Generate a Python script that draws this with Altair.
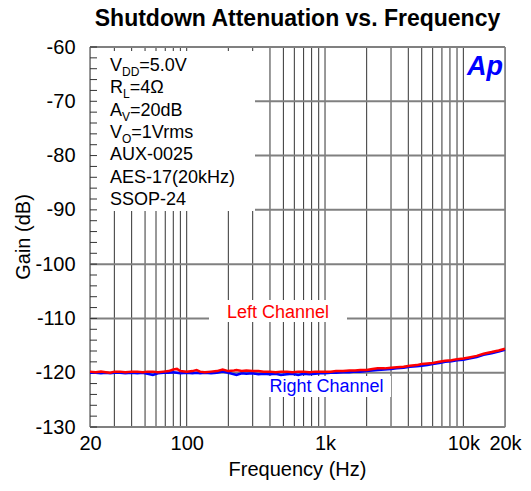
import altair as alt
import pandas as pd

FONT = "Liberation Sans"

# ---- data ----
freq = [20, 22, 24, 26, 28, 30, 33, 36, 40, 44, 48, 52, 57, 62, 68, 74, 80, 85, 90,
        100, 110, 118, 125, 135, 150, 165, 182, 200, 220, 229, 250, 270, 300, 330, 360,
        400, 440, 480, 530, 580, 640, 700, 770, 850, 930, 1000, 1100, 1200, 1350, 1500,
        1650, 1800, 2000, 2200, 2400, 2700, 3000, 3300, 3700, 4100, 4600, 5000, 5500,
        6000, 6700, 7400, 8200, 9000, 10000, 11000, 12500, 14000, 16000, 18000, 20000]

left_db = [-119.8, -119.9, -119.8, -119.9, -120.0, -119.8, -119.8, -119.9, -119.8, -119.8,
           -119.9, -119.8, -119.8, -119.9, -119.8, -119.7, -119.4, -119.3, -119.7,
           -119.8, -119.7, -119.5, -119.8, -119.9, -119.8, -119.7, -119.4, -119.7, -119.6,
           -119.5, -119.7, -119.6, -119.7, -119.7, -119.8, -119.8, -119.9, -119.8, -119.8,
           -119.9, -119.8, -119.8, -119.9, -119.8, -119.8, -119.8, -119.8, -119.7, -119.7,
           -119.6, -119.6, -119.5, -119.5, -119.3, -119.2, -119.2, -119.1, -119.0, -118.9,
           -118.7, -118.6, -118.4, -118.3, -118.2, -118.0, -117.8, -117.7, -117.5, -117.4,
           -117.2, -116.9, -116.5, -116.2, -115.9, -115.6]

right_db = [-120.0, -120.0, -120.1, -120.0, -120.1, -120.0, -120.0, -120.1, -120.0, -120.1,
            -120.0, -120.2, -120.4, -120.1, -120.0, -120.0, -119.9, -120.0, -120.1,
            -120.0, -120.1, -120.0, -120.1, -120.0, -120.1, -120.0, -119.8, -120.0, -120.3,
            -120.4, -120.1, -120.2, -120.1, -120.3, -120.2, -120.3, -120.2, -120.4, -120.3,
            -120.2, -120.4, -120.2, -120.3, -120.2, -120.1, -120.1, -120.0, -120.0, -119.9,
            -119.9, -119.8, -119.8, -119.7, -119.6, -119.5, -119.4, -119.3, -119.2, -119.1,
            -118.9, -118.8, -118.7, -118.6, -118.4, -118.2, -118.0, -117.9, -117.7, -117.6,
            -117.4, -117.1, -116.7, -116.4, -116.1, -115.8]

grid_freq = [20, 30, 40, 50, 60, 70, 80, 90,
             100, 200, 300, 400, 500, 600, 700, 800, 900,
             1000, 2000, 3000, 4000, 5000, 6000, 7000, 8000, 9000,
             10000, 20000]
grid_gain = [-60, -70, -80, -90, -100, -110, -120, -130]
minor_gain = [-60, -62, -64, -66, -68, -70, -72, -74, -76, -78, -80, -82, -84, -86, -88,
              -90, -92, -94, -96, -98, -100, -102, -104, -106, -108, -110, -112, -114,
              -116, -118, -120, -122, -124, -126, -128, -130]
x_label_values = [20, 100, 1000, 10000, 20000]
y_label_values = [-60, -70, -80, -90, -100, -110, -120, -130]

W, H = 415, 380

# ---- tables ----
lines_df = pd.DataFrame({
    "freq": freq * 2,
    "gain": left_db + right_db,
    "channel": ["Left Channel"] * len(freq) + ["Right Channel"] * len(freq),
})
vgrid_df = pd.DataFrame({"freq": grid_freq})
hgrid_df = pd.DataFrame({"gain": grid_gain})
minor_df = pd.DataFrame({"gain": minor_gain})
one = pd.DataFrame({"k": [0]})

# annotation text segments (main text 18px, subscripts 12px)
seg = []
bl = [24, 46.3, 68.7, 91, 113.3, 135.7, 158]
seg += [("V", 20, bl[0], 18), ("DD", 32.0, bl[0] + 5, 12), ("=5.0V", 49.3, bl[0], 18)]
seg += [("R", 20, bl[1], 18), ("L", 33.0, bl[1] + 5, 12), ("=4Ω", 39.7, bl[1], 18)]
seg += [("A", 20, bl[2], 18), ("V", 32.0, bl[2] + 5, 12), ("=20dB", 40.0, bl[2], 18)]
seg += [("V", 20, bl[3], 18), ("O", 32.0, bl[3] + 5, 12), ("=1Vrms", 41.3, bl[3], 18)]
seg += [("AUX-0025", 20, bl[4], 18), ("AES-17(20kHz)", 20, bl[5], 18), ("SSOP-24", 20, bl[6], 18)]
seg_df = pd.DataFrame(seg, columns=["txt", "px", "py", "fs"])

xscale = alt.Scale(type="log", domain=[20, 20000], nice=False)
yscale = alt.Scale(domain=[-130, -60], nice=False, zero=False)

x_axis = alt.Axis(values=x_label_values, grid=False, ticks=False, domain=False,
                  labelFontSize=20, labelFont=FONT, labelColor="black", labelPadding=6,
                  labelExpr="datum.value >= 1000 ? (datum.value/1000) + 'k' : '' + datum.value",
                  labelFlush=False, labelOverlap=False, title=None)
y_axis = alt.Axis(values=y_label_values, grid=False, ticks=False, domain=False,
                  labelFontSize=20, labelFont=FONT, labelColor="black", labelPadding=15,
                  labelExpr="'' + datum.value",
                  labelOverlap=False, title=None)

X = alt.X("freq:Q", scale=xscale, axis=x_axis)
Y = alt.Y("gain:Q", scale=yscale, axis=y_axis)

vgrid = alt.Chart(vgrid_df).mark_rule(color="#333333", strokeWidth=1).encode(x=X)
hgrid = alt.Chart(hgrid_df).mark_rule(color="#808080", strokeWidth=2).encode(y=Y)

box = alt.Chart(one).mark_rect(color="white").encode(
    x=alt.value(1), x2=alt.value(165), y=alt.value(4), y2=alt.value(164))
left_box = alt.Chart(one).mark_rect(color="white").encode(
    x=alt.value(119), x2=alt.value(257), y=alt.value(253), y2=alt.value(275))
right_box = alt.Chart(one).mark_rect(color="white").encode(
    x=alt.value(172), x2=alt.value(301), y=alt.value(329), y2=alt.value(350))

minor = alt.Chart(minor_df).mark_rule(color="#333333", strokeWidth=1).encode(
    y=Y, x=alt.value(0), x2=alt.value(7))

ann = alt.Chart(seg_df).mark_text(align="left", baseline="alphabetic", font=FONT,
                                  color="black").encode(
    x=alt.X("px:Q", scale=None), y=alt.Y("py:Q", scale=None),
    size=alt.Size("fs:Q", scale=None, legend=None), text="txt:N")

right_line = alt.Chart(lines_df).transform_filter(
    alt.datum.channel == "Right Channel").mark_line(color="#0000ff", strokeWidth=2.5).encode(x=X, y=Y)
left_line = alt.Chart(lines_df).transform_filter(
    alt.datum.channel == "Left Channel").mark_line(color="#ff0000", strokeWidth=2.5).encode(x=X, y=Y)

left_lbl = alt.Chart(one).mark_text(text="Left Channel", font=FONT, fontSize=18,
                                    color="#ff0000", align="center",
                                    baseline="alphabetic").encode(
    x=alt.value(188), y=alt.value(271))
right_lbl = alt.Chart(one).mark_text(text="Right Channel", font=FONT, fontSize=18,
                                     color="#0000ff", align="center",
                                     baseline="alphabetic").encode(
    x=alt.value(236.5), y=alt.value(344.7))

logo = alt.Chart(one).mark_text(text="Ap", font=FONT, fontSize=27, fontWeight="bold",
                                fontStyle="italic", color="#0000ff", align="center",
                                baseline="alphabetic").encode(
    x=alt.value(395), y=alt.value(28))

title = alt.Chart(one).mark_text(text="Shutdown Attenuation vs. Frequency", font=FONT,
                                 fontSize=23, fontWeight="bold", color="black",
                                 align="center", baseline="alphabetic").encode(
    x=alt.value(207.5), y=alt.value(-21))
xtitle = alt.Chart(one).mark_text(text="Frequency (Hz)", font=FONT, fontSize=20,
                                  color="black", align="center",
                                  baseline="alphabetic").encode(
    x=alt.value(207.5), y=alt.value(428.5))
ytitle = alt.Chart(one).mark_text(text="Gain (dB)", font=FONT, fontSize=20,
                                  color="black", align="center", baseline="middle",
                                  angle=270).encode(
    x=alt.value(-66), y=alt.value(190))

chart = alt.layer(
    vgrid, hgrid, box, left_box, right_box, minor, ann, left_lbl, right_lbl,
    right_line, left_line, logo, title, xtitle, ytitle
).properties(
    width=W, height=H,
    autosize=alt.AutoSizeParams(type="none"),
    padding={"left": 82, "top": 39, "right": 18, "bottom": 56},
).configure_view(stroke="black", strokeWidth=1.5).configure(background="white")

chart.save("out.html", embed_options={"renderer": "svg", "actions": False})
